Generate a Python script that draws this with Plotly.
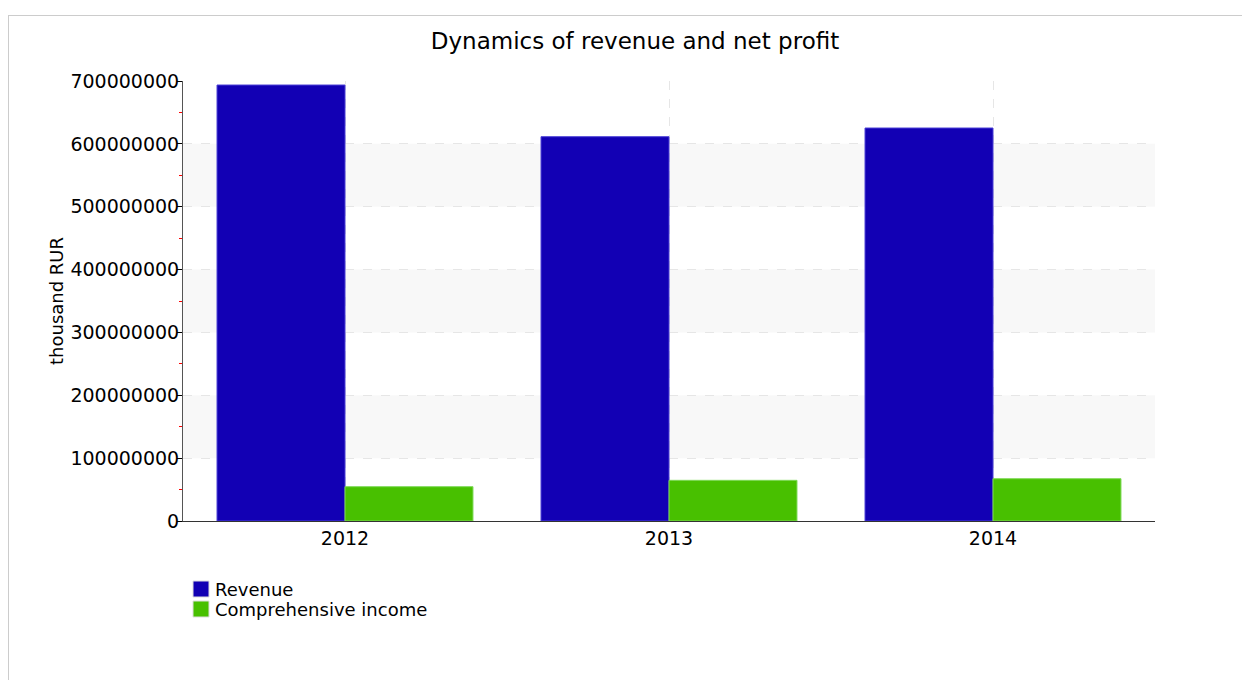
import plotly.graph_objects as go

years = ["2012", "2013", "2014"]
revenue = [693600000, 611400000, 625200000]
comprehensive_income = [54600000, 64700000, 67300000]
series_names = ["Revenue", "Comprehensive income"]
series_colors = ["#1200b4", "#48c000"]
y_ticks = [0, 100000000, 200000000, 300000000, 400000000, 500000000, 600000000, 700000000]
y_tick_labels = [str(v) for v in y_ticks]

FONT = "DejaVu Sans"

fig = go.Figure()
fig.add_trace(go.Bar(x=years, y=revenue, name=series_names[0],
                     marker=dict(color=series_colors[0], line=dict(color="#4b3fd6", width=1))))
fig.add_trace(go.Bar(x=years, y=comprehensive_income, name=series_names[1],
                     marker=dict(color=series_colors[1], line=dict(color="#7ed957", width=1))))

W, H = 1250, 680
L, T = 175, 73
PR, PB = 1147, 513  # plot right / bottom in pixels
R, B = W - PR, H - PB
pw, ph = PR - L, PB - T


def px_x(x):
    return (x - L) / pw


def px_y(y):
    return (PB - y) / ph


shapes = []
# alternating bands
for lo in [100000000, 300000000, 500000000]:
    shapes.append(dict(type="rect", xref="paper", yref="y", x0=0, x1=1, y0=lo, y1=lo + 100000000,
                       fillcolor="#f8f8f8", line=dict(width=0), layer="below"))
# outer border (top and left)
shapes.append(dict(type="line", xref="paper", yref="paper", x0=px_x(0), x1=px_x(1250), y0=px_y(7.5), y1=px_y(7.5),
                   line=dict(color="#cccccc", width=1)))
shapes.append(dict(type="line", xref="paper", yref="paper", x0=px_x(0.5), x1=px_x(0.5), y0=px_y(7.5), y1=px_y(690),
                   line=dict(color="#cccccc", width=1)))

# custom legend (squares + text)
annotations = []
for i, (name, col) in enumerate(zip(series_names, series_colors)):
    top = 573 + i * 20
    shapes.append(dict(type="rect", xref="paper", yref="paper",
                       x0=px_x(185), x1=px_x(201), y0=px_y(top + 16), y1=px_y(top),
                       fillcolor=col, line=dict(color="#dddddd", width=1)))
    annotations.append(dict(text=name, xref="paper", yref="paper", x=px_x(205), y=px_y(top + 8.5),
                            xanchor="left", yanchor="middle", showarrow=False,
                            font=dict(size=18, family=FONT, color="#000000")))

fig.update_layout(
    width=W, height=H,
    margin=dict(l=L, r=R, t=T, b=B),
    paper_bgcolor="white", plot_bgcolor="white",
    font=dict(family=FONT, color="#000000", size=17),
    title=dict(text="Dynamics of revenue and net profit", x=0.5016, xanchor="center",
               y=1 - 33 / H, yanchor="middle", font=dict(size=23, family=FONT)),
    barmode="group", bargap=0.21, bargroupgap=0,
    showlegend=False,
    shapes=shapes,
    annotations=annotations,
)
fig.update_xaxes(
    type="category", range=[-0.5, 2.5],
    showgrid=True, gridcolor="#e6e6e6", griddash="dash", gridwidth=1,
    showline=True, linecolor="#333333", linewidth=1,
    ticks="", tickfont=dict(size=19, family=FONT),
)
fig.update_yaxes(
    range=[0, 700000000],
    tickvals=y_ticks, ticktext=y_tick_labels,
    showgrid=True, gridcolor="#e6e6e6", griddash="dash", gridwidth=1,
    zeroline=False,
    showline=True, linecolor="#555555", linewidth=1,
    ticks="outside", ticklen=5, tickcolor="#000000",
    ticklabelstandoff=-6,
    tickfont=dict(size=19, family=FONT),
    title=dict(text="thousand RUR", font=dict(size=18, family=FONT), standoff=2),
    minor=dict(dtick=50000000, tick0=0, ticks="outside", ticklen=3, tickcolor="#ff0000", showgrid=False),
)

fig.write_html("out.html")
